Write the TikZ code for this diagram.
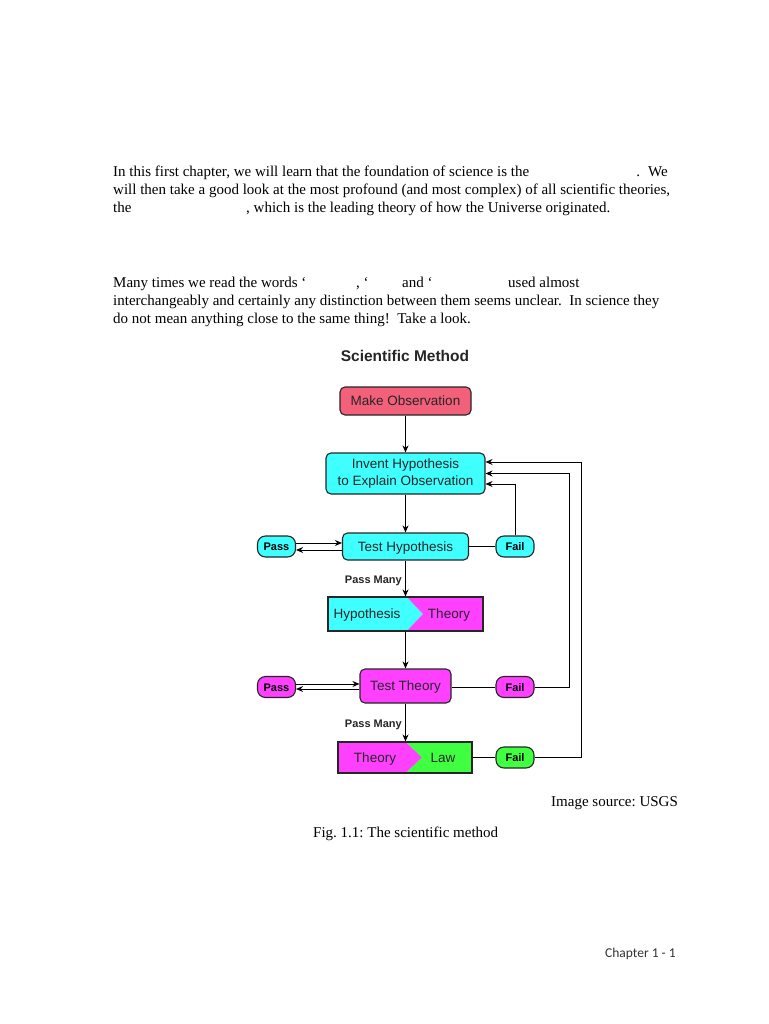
\documentclass[tikz,border=0pt]{standalone}
\usepackage{fontspec}
\setmainfont{Liberation Serif}
\newfontfamily\arialf{Liberation Sans}
\newfontfamily\calibf{Carlito}
\usetikzlibrary{arrows.meta}
\definecolor{obsc}{RGB}{242,96,122}
\definecolor{cyc}{RGB}{64,255,255}
\definecolor{mgc}{RGB}{255,64,255}
\definecolor{grc}{RGB}{64,255,64}
\frenchspacing
\begin{document}
\begin{tikzpicture}[x=1pt,y=-1pt,
 body/.style={inner sep=0pt,anchor=base west,font=\fontsize{15}{18}\selectfont},
 capt/.style={inner sep=0pt,anchor=base west,font=\fontsize{15}{18}\selectfont},
 box/.style={draw=black!85,line width=1.1pt,rounded corners=5pt,font=\arialf\fontsize{13.5}{16.5}\selectfont,inner sep=0pt,align=center,text=black!85},
 pill/.style={draw=black!85,line width=1.1pt,rounded corners=8pt,font=\arialf\bfseries\fontsize{11}{13}\selectfont,minimum width=38pt,minimum height=21pt,inner sep=0pt,text height=8pt,text depth=0pt},
 boxtxt/.style={inner sep=0pt,font=\arialf\fontsize{13.5}{16.5}\selectfont,text=black!85,text height=9.7pt,text depth=0pt},
 lbl/.style={inner sep=0pt,anchor=base east,font=\arialf\bfseries\fontsize{11}{13}\selectfont,text=black!85},
 arr/.style={-{Stealth[length=7pt,width=6pt]},line width=0.9pt},
 ln/.style={line width=0.9pt},
]
\useasboundingbox[fill=white] (0,0) rectangle (768,1024);

% body text
\node[body] (t1) at (113,177) {In this first chapter, we will learn that the foundation of science is the};
\node[body,anchor=base east] (t1b) at (668,177) {.\hspace{8pt}We};
\node[body] (t2) at (113,195) {will then take a good look at the most profound (and most complex) of all scientific theories,};
\node[body] (t3) at (113,213) {the};
\node[body] (t3b) at (246,213) {, which is the leading theory of how the Universe originated.};
\node[body] (p1) at (113,287) {Many times we read the words ‘};
\node[body] (p1b) at (356,287) {, ‘};
\node[body] (p1c) at (402,287) {and ‘};
\node[body] (p1d) at (508,287) {used almost};
\node[body] (p2) at (113,305) {interchangeably and certainly any distinction between them seems unclear.\ \ In science they};
\node[body] (p3) at (113,323) {do not mean anything close to the same thing!\ \ Take a look.};

% title
\node[inner sep=0pt,anchor=base,font=\arialf\bfseries\fontsize{15.5}{18}\selectfont,text=black!85] (title) at (405,361) {Scientific Method};

% boxes
\node[box,fill=obsc,minimum width=131pt,minimum height=28pt,text height=9.7pt,text depth=0pt] (obs) at (405.5,401) {Make Observation};
\node[box,fill=cyc,minimum width=159pt,minimum height=41pt] (inv) at (405.5,473.5) {Invent Hypothesis\\to Explain Observation};
\node[box,fill=cyc,minimum width=126pt,minimum height=27pt,text height=9.7pt,text depth=0pt] (th) at (405.5,546.5) {Test Hypothesis};
\node[pill,fill=cyc] (pass1) at (276.5,546.5) {Pass};
\node[pill,fill=cyc] (fail1) at (515,546.5) {Fail};

% hypothesis -> theory
\fill[cyc] (328,597) -- (407,597) -- (423,614) -- (407,631) -- (328,631) -- cycle;
\fill[mgc] (407,597) -- (483,597) -- (483,631) -- (407,631) -- (423,614) -- cycle;
\node[draw=black!85,line width=1.1pt,minimum width=155pt,minimum height=34pt,inner sep=0pt] (ht) at (405.5,614) {};
\node[boxtxt] (htA) at (367,614) {Hypothesis};
\node[boxtxt] (htB) at (449,614) {Theory};

\node[box,fill=mgc,minimum width=91pt,minimum height=34pt,text height=9.7pt,text depth=0pt] (tt) at (405.5,686) {Test Theory};
\node[pill,fill=mgc] (pass2) at (276.5,687) {Pass};
\node[pill,fill=mgc] (fail2) at (515,687) {Fail};

% theory -> law
\fill[mgc] (338,742) -- (406,742) -- (422,757.5) -- (406,773) -- (338,773) -- cycle;
\fill[grc] (406,742) -- (472,742) -- (472,773) -- (406,773) -- (422,757.5) -- cycle;
\node[draw=black!85,line width=1.1pt,minimum width=134pt,minimum height=31pt,inner sep=0pt] (tl) at (405,757.5) {};
\node[boxtxt] (tlA) at (375,757.5) {Theory};
\node[boxtxt] (tlB) at (443,757.5) {Law};
\node[pill,fill=grc] (fail3) at (515,757.5) {Fail};

% labels
\node[lbl] (pm1) at (402,583) {Pass Many};
\node[lbl] (pm2) at (402,727) {Pass Many};

% connectors
\draw[arr] (obs.south) -- (inv.north);
\draw[arr] (inv.south) -- (th.north);
\draw[arr] (th.south) -- (ht.north);
\draw[arr] (ht.south) -- (tt.north);
\draw[arr] (tt.south) -- (tt.south |- tl.north);

\draw[arr] ([yshift=3.5pt]pass1.east) -- ([yshift=3.5pt]pass1.east -| th.west);
\draw[arr] ([yshift=-3.5pt]th.west) -- ([yshift=-3.5pt]th.west -| pass1.east);
\draw[ln] (th.east) -- (fail1.west);
\draw[arr] (fail1.north) |- ([yshift=-10.5pt]inv.east);

\draw[arr] ([yshift=3pt]pass2.east) -- ([yshift=3pt]pass2.east -| tt.west);
\draw[arr] ([yshift=-3pt]tt.west) -- ([yshift=-3pt]tt.west -| pass2.east);
\draw[ln] (tt.east |- fail2.west) -- (fail2.west);
\draw[arr] (fail2.east) -- ++(35,0) |- (inv.east);

\draw[ln] (tl.east |- fail3.west) -- (fail3.west);
\draw[arr] (fail3.east) -- ++(47,0) |- ([yshift=11.5pt]inv.east);

% captions
\node[capt] (src) at (551,806) {Image source: USGS};
\node[capt] (fig) at (313,837) {Fig. 1.1: The scientific method};
\node[inner sep=0pt,anchor=base west,font=\calibf\fontsize{13.5}{16}\selectfont,text=black!80] (chap) at (605,957) {Chapter 1 - 1};
\end{tikzpicture}
\end{document}
